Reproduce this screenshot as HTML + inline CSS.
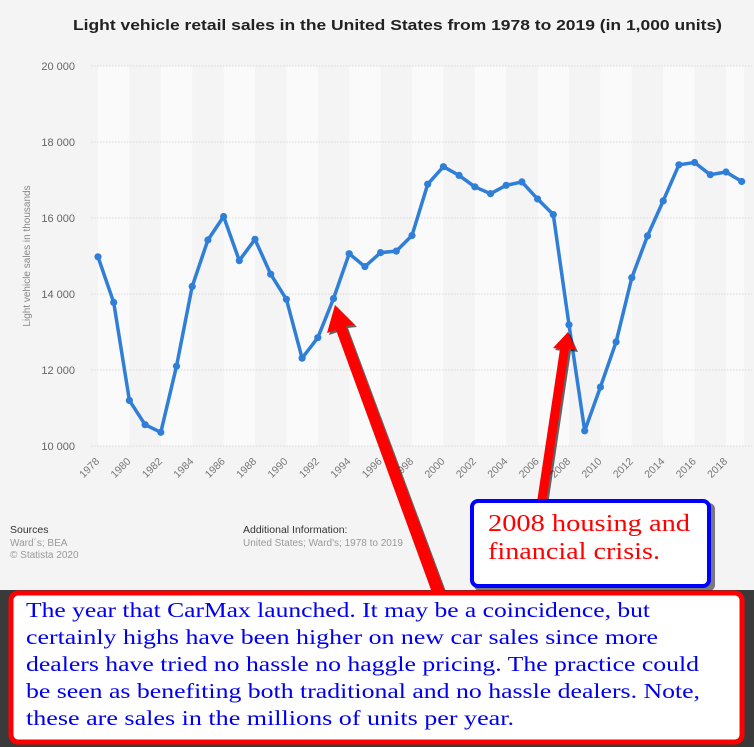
<!DOCTYPE html>
<html><head><meta charset="utf-8"><style>
html,body{margin:0;padding:0;width:754px;height:747px;overflow:hidden;background:#f4f4f4;font-family:"Liberation Sans",sans-serif}
</style></head><body>
<svg width="754" height="747" viewBox="0 0 754 747" xmlns="http://www.w3.org/2000/svg" style="position:absolute;left:0;top:0">
<rect x="0" y="0" width="754" height="747" fill="#f4f4f4"/>
<rect x="0" y="590" width="754" height="157" fill="#3a3a3a"/>
<g fill="#fafafa">
<rect x="98" y="66" width="31.4" height="380"/><rect x="160.8" y="66" width="31.4" height="380"/><rect x="223.6" y="66" width="31.4" height="380"/><rect x="286.4" y="66" width="31.4" height="380"/><rect x="349.2" y="66" width="31.4" height="380"/><rect x="412" y="66" width="31.4" height="380"/><rect x="474.8" y="66" width="31.4" height="380"/><rect x="537.6" y="66" width="31.4" height="380"/><rect x="600.4" y="66" width="31.4" height="380"/><rect x="663.2" y="66" width="31.4" height="380"/><rect x="726" y="66" width="18" height="380"/>
</g>
<g stroke="#d8d8d8" stroke-dasharray="1.5,1.5" stroke-width="1">
<line x1="91" y1="66" x2="752" y2="66"/><line x1="91" y1="142" x2="752" y2="142"/><line x1="91" y1="218" x2="752" y2="218"/><line x1="91" y1="294" x2="752" y2="294"/><line x1="91" y1="370" x2="752" y2="370"/><line x1="91" y1="446" x2="752" y2="446"/>
</g>
<g font-size="11" fill="#666" text-anchor="end">
<text x="75" y="70">20 000</text><text x="75" y="146">18 000</text><text x="75" y="222">16 000</text><text x="75" y="298">14 000</text><text x="75" y="374">12 000</text><text x="75" y="450">10 000</text>
</g>
<text transform="translate(30,256) rotate(-90)" font-size="10" fill="#888" text-anchor="middle">Light vehicle sales in thousands</text>
<text x="73" y="30" font-size="15" font-weight="bold" fill="#222" textLength="649" lengthAdjust="spacingAndGlyphs">Light vehicle retail sales in the United States from 1978 to 2019 (in 1,000 units)</text>
<g font-size="10.5" fill="#777" text-anchor="end" id="xl"></g>
<polyline id="ln" fill="none" stroke="#2f7ed8" stroke-width="3.5" stroke-linejoin="round" points=""/>
<g id="dots" fill="#2f7ed8"></g>
<text x="10" y="533" font-size="10.5" fill="#333">Sources</text>
<text x="10" y="546" font-size="10" fill="#999">Ward´s; BEA</text>
<text x="10" y="558" font-size="10" fill="#999">© Statista 2020</text>
<text x="243" y="533" font-size="10.5" fill="#333">Additional Information:</text>
<text x="243" y="546" font-size="10" fill="#999">United States; Ward's; 1978 to 2019</text>
<g>
<polygon points="335,305 355,325 346,326 446,595 434,598 336,330 327,333" fill="#000" opacity="0.6" transform="translate(2,2)"/>
<polygon points="335,305 355,325 346,326 446,595 434,598 336,330 327,333" fill="#ff0000"/>
<polygon points="568,332 576,350 569,349 546,503 537,502 560,349 553,348" fill="#000" opacity="0.6" transform="translate(2,2)"/>
<polygon points="568,332 576,350 569,349 546,503 537,502 560,349 553,348" fill="#ff0000"/>
</g>
<rect x="474" y="503" width="241" height="88" rx="6" fill="#000" opacity="0.5"/>
<rect x="472" y="501" width="237" height="85" rx="6" fill="#fff" stroke="#0000ff" stroke-width="4"/>
<text x="488" y="531" font-family="Liberation Serif,serif" font-size="24" fill="#ff0000" textLength="202" lengthAdjust="spacingAndGlyphs">2008 housing and</text>
<text x="488" y="559" font-family="Liberation Serif,serif" font-size="24" fill="#ff0000" textLength="172" lengthAdjust="spacingAndGlyphs">financial crisis.</text>
<rect x="11" y="593" width="731" height="149" rx="7" fill="#fff" stroke="#ff0000" stroke-width="5"/>
<g font-family="Liberation Serif,serif" font-size="21" fill="#0000ee" lengthAdjust="spacingAndGlyphs">
<text x="26" y="617" textLength="624" lengthAdjust="spacingAndGlyphs">The year that CarMax launched. It may be a coincidence, but</text>
<text x="26" y="644" textLength="632" lengthAdjust="spacingAndGlyphs">certainly highs have been higher on new car sales since more</text>
<text x="26" y="671" textLength="673" lengthAdjust="spacingAndGlyphs">dealers have tried no hassle no haggle pricing. The practice could</text>
<text x="26" y="698" textLength="674" lengthAdjust="spacingAndGlyphs">be seen as benefiting both traditional and no hassle dealers. Note,</text>
<text x="26" y="725" textLength="488" lengthAdjust="spacingAndGlyphs">these are sales in the millions of units per year.</text>
</g>
</svg>
<script>
var d=[14980,13780,11200,10560,10360,12100,14200,15420,16040,14880,15440,14520,13860,12310,12850,13880,15060,14720,15090,15130,15540,16890,17350,17120,16820,16640,16860,16950,16500,16090,13190,10400,11550,12740,14430,15530,16450,17400,17460,17140,17210,16960];
var pts=[],dots='',xl='';
d.forEach(function(v,i){var x=98+i*15.7,y=446-(v-10000)*0.038;pts.push(x.toFixed(1)+','+y.toFixed(1));dots+='<circle cx="'+x.toFixed(1)+'" cy="'+y.toFixed(1)+'" r="3.6"/>';
if(i%2==0){xl+='<text transform="translate('+(x+2)+',462) rotate(-45)">'+(1978+i)+'</text>';}});
document.getElementById('ln').setAttribute('points',pts.join(' '));
document.getElementById('dots').innerHTML=dots;
document.getElementById('xl').innerHTML=xl;
</script>
</body></html>
